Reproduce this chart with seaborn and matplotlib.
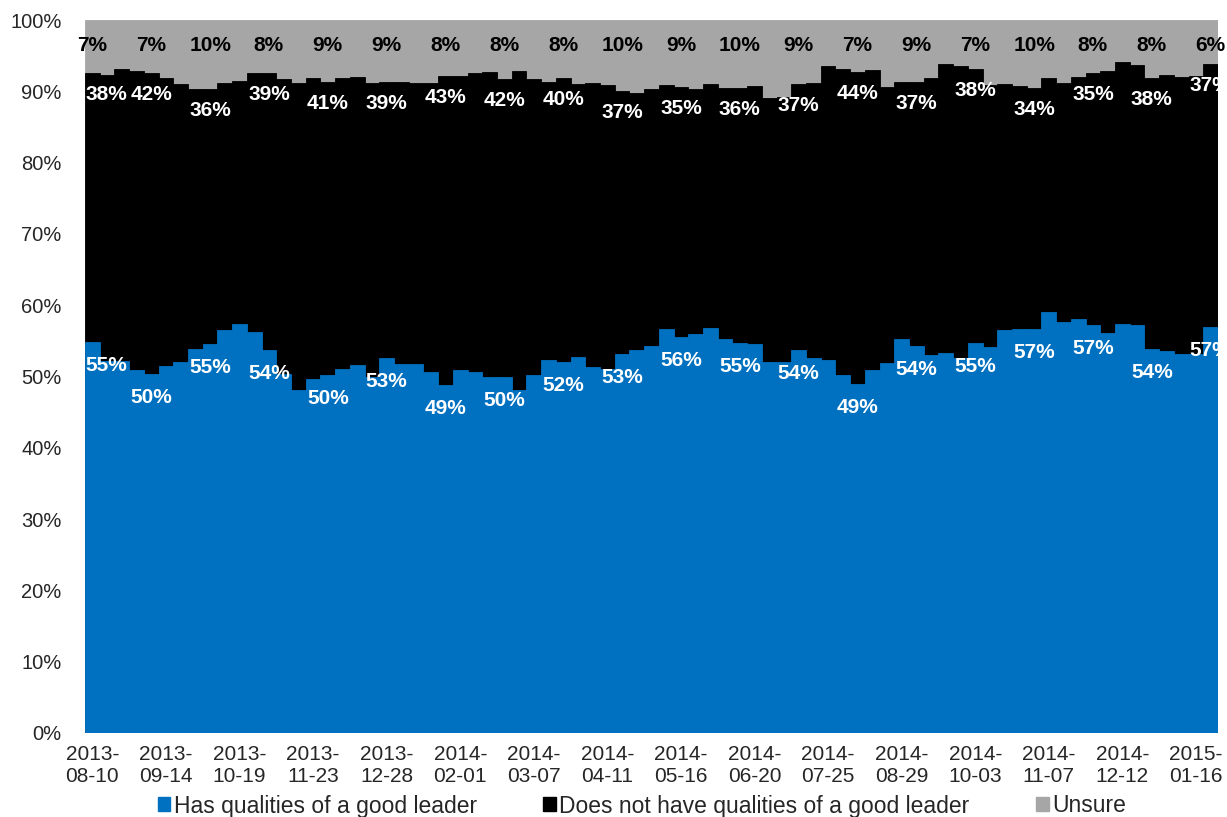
import numpy as np
import pandas as pd
import matplotlib
matplotlib.use("Agg")
import matplotlib.pyplot as plt
from matplotlib.patches import Patch
import seaborn as sns

# weekly poll shares (%)
has_leader = [54.9, 52.2, 52.2, 50.9, 50.35, 51.5, 52.0, 53.9, 54.6, 56.5,
              57.3, 56.3, 53.7, 50.3, 48.1, 49.65, 50.2, 51.1, 51.6, 50.0,
              52.6, 51.75, 51.75, 50.6, 48.8, 50.96, 50.7, 50.0, 49.9, 48.1,
              50.2, 52.3, 52.1, 52.7, 51.4, 51.05, 53.2, 53.7, 54.3, 56.6,
              55.6, 56.0, 56.8, 55.2, 54.7, 54.6, 52.1, 52.1, 53.7, 52.6,
              52.3, 50.2, 49.0, 50.9, 51.9, 55.2, 54.3, 53.0, 53.25, 52.6,
              54.65, 54.2, 56.5, 56.6, 56.6, 59.0, 57.6, 58.1, 57.2, 56.1,
              57.3, 57.2, 53.8, 53.6, 53.2, 53.2, 56.9]
unsure = [7.4, 7.7, 6.9, 7.15, 7.4, 8.2, 9.0, 9.7, 9.7, 8.9,
          8.5, 7.5, 7.5, 8.3, 8.9, 8.1, 8.7, 8.1, 8.0, 8.9,
          8.65, 8.65, 8.9, 8.9, 7.85, 7.8, 7.4, 7.3, 8.3, 7.15,
          8.3, 8.7, 8.2, 9.0, 8.8, 9.1, 10.0, 10.2, 9.7, 9.1,
          9.4, 9.7, 9.0, 9.5, 9.6, 9.2, 11.0, 10.75, 9.0, 8.8,
          6.45, 6.9, 7.25, 7.0, 9.4, 8.65, 8.65, 8.1, 6.2, 6.45,
          6.9, 9.1, 9.0, 9.2, 9.5, 8.1, 8.9, 7.95, 7.5, 7.1,
          5.9, 6.3, 8.2, 7.7, 8.05, 7.85, 6.2]
tick_dates = ["2013-\n08-10", "2013-\n09-14", "2013-\n10-19", "2013-\n11-23",
              "2013-\n12-28", "2014-\n02-01", "2014-\n03-07", "2014-\n04-11",
              "2014-\n05-16", "2014-\n06-20", "2014-\n07-25", "2014-\n08-29",
              "2014-\n10-03", "2014-\n11-07", "2014-\n12-12", "2015-\n01-16"]
series_names = ["Has qualities of a good leader",
                "Does not have qualities of a good leader", "Unsure"]

BLUE = "#0070C0"
BLACK = "#000000"
GREY = "#A6A6A6"

df = pd.DataFrame({"week": np.arange(len(has_leader)),
                   "has": has_leader, "unsure": unsure})
df["not"] = 100 - df["has"] - df["unsure"]
df["top_not"] = df["has"] + df["not"]
df["top_unsure"] = 100.0

sns.set_style("white")
plt.rcParams["font.family"] = ["Liberation Sans", "DejaVu Sans"]

fig = plt.figure(figsize=(12.27, 8.17), dpi=100)
ax = fig.add_axes([85 / 1227, 1 - 733 / 817, 1133 / 1227, 713 / 817])

# stacked columns with no gap -> overlapping full-height bars
for col, c in [("top_unsure", GREY), ("top_not", BLACK), ("has", BLUE)]:
    sns.barplot(data=df, x="week", y=col, color=c, width=1, saturation=1,
                errorbar=None, linewidth=0.6, edgecolor=c, ax=ax)

n = len(df)
ax.set_xlim(-0.5, n - 0.5)
ax.set_ylim(0, 100)
ax.set_yticks(range(0, 101, 10))
ax.set_yticklabels([f"{v}%" for v in range(0, 101, 10)], fontsize=14.5)
ax.set_xticks(range(0, n, 5))
ax.set_xticklabels(tick_dates, fontsize=15, linespacing=1.15)
ax.tick_params(axis="both", length=0)
ax.tick_params(axis="y", pad=17)
ax.tick_params(axis="x", pad=9)
ax.set_xlabel("")
ax.set_ylabel("")
for s in ax.spines.values():
    s.set_visible(False)

def pct(v):
    return f"{int(np.floor(v + 0.5))}%"

# data labels every 4 weeks, near the top of each segment
for i in range(0, n, 4):
    r = df.iloc[i]
    x, ha = (i, "center") if i > 0 else (-0.45, "left")
    ax.text(x, r["has"] - 3.3, pct(r["has"]), color="white", ha=ha,
            va="center", fontsize=15, fontweight="bold", clip_on=True)
    ax.text(x, r["top_not"] - 3.0, pct(r["not"]), color="white", ha=ha,
            va="center", fontsize=15, fontweight="bold", clip_on=True)
    ax.text(i, 100 - 3.6, pct(r["unsure"]), color="black", ha="center",
            va="center", fontsize=15, fontweight="bold", clip_on=False)

handles = [Patch(color=c) for c in (BLUE, BLACK, GREY)]
fig.legend(handles, series_names, loc="center", ncol=3,
           bbox_to_anchor=(0.523, 1 - 806 / 817), frameon=False, fontsize=16.5,
           handlelength=0.55, handleheight=0.55, handletextpad=0.15,
           columnspacing=2.9, borderpad=0)

fig.savefig("out.png", dpi=100)
